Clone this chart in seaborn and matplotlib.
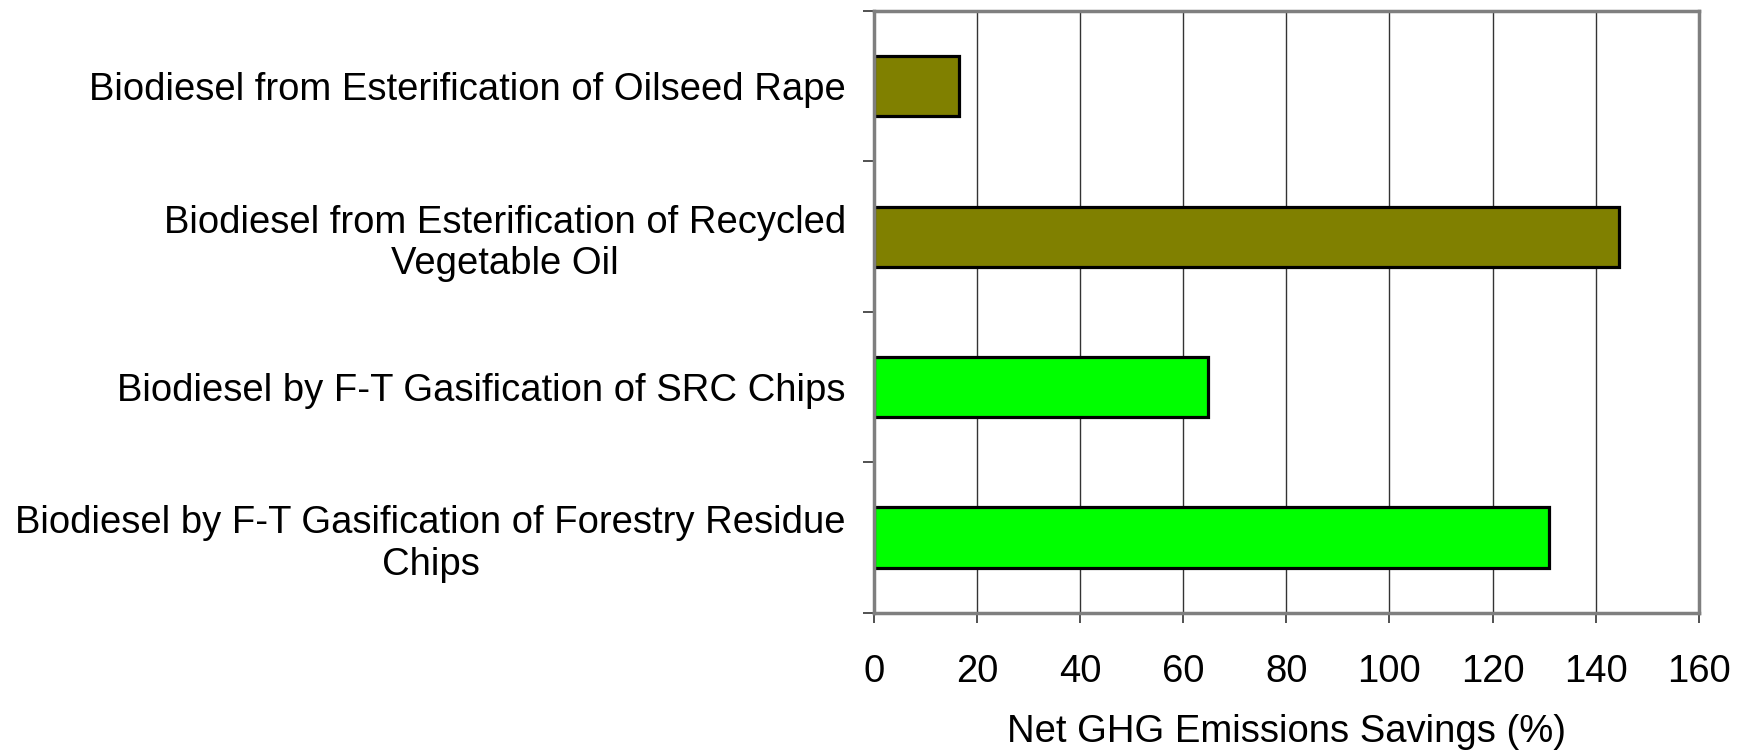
import matplotlib
matplotlib.use("Agg")
import matplotlib.pyplot as plt
import seaborn as sns
import pandas as pd
import numpy as np

categories = [
    "Biodiesel from Esterification of Oilseed Rape",
    "Biodiesel from Esterification of Recycled\nVegetable Oil",
    "Biodiesel by F-T Gasification of SRC Chips",
    "Biodiesel by F-T Gasification of Forestry Residue\nChips",
]
savings = [16.5, 144.6, 64.9, 130.9]
bar_colors = ["#808000", "#808000", "#00FF00", "#00FF00"]
x_ticks = [0, 20, 40, 60, 80, 100, 120, 140, 160]
x_label = "Net GHG Emissions Savings (%)"

sns.set_theme(style="white")
plt.rcParams["font.family"] = ["Liberation Sans", "DejaVu Sans"]
plt.rcParams["text.color"] = "black"
plt.rcParams["xtick.labelcolor"] = "black"
plt.rcParams["ytick.labelcolor"] = "black"
plt.rcParams["axes.labelcolor"] = "black"

FS = 27.5

df = pd.DataFrame({"category": categories, "value": savings})

fig = plt.figure(figsize=(17.52, 7.56), dpi=100)
ax = fig.add_axes([0.4987, 0.1896, 0.4710, 0.7958])

sns.barplot(data=df, y="category", x="value", hue="category",
            palette=bar_colors, orient="h", width=0.4, legend=False,
            edgecolor="black", linewidth=2.3, saturation=1, ax=ax)

ax.set_xlim(0, 160)
ax.set_ylim(3.5, -0.5)
ax.set_xticks(x_ticks)
ax.set_xticklabels([str(t) for t in x_ticks], fontsize=FS, color="black")
ax.set_yticks(range(len(categories)))
ax.set_yticklabels(categories, fontsize=FS, color="black")
for lab in ax.get_yticklabels():
    lab.set_multialignment("center")
ax.set_yticks(np.arange(-0.5, len(categories), 1.0), minor=True)
ax.set_ylabel("")
ax.set_xlabel(x_label, fontsize=FS, labelpad=17, color="black")

ax.grid(axis="x", color="#333333", linewidth=1)
ax.set_axisbelow(True)
for side in ["left", "bottom", "top", "right"]:
    ax.spines[side].set_visible(True)
    ax.spines[side].set_color("#7f7f7f")
    ax.spines[side].set_linewidth(2.5)

ax.tick_params(axis="y", which="major", length=0, pad=20)
ax.tick_params(axis="y", which="minor", left=True, length=8, width=1.2, color="#333333")
ax.tick_params(axis="x", which="major", bottom=True, length=7, width=1.2, color="#333333", pad=23)

fig.savefig("out.png", dpi=100, facecolor="white")
